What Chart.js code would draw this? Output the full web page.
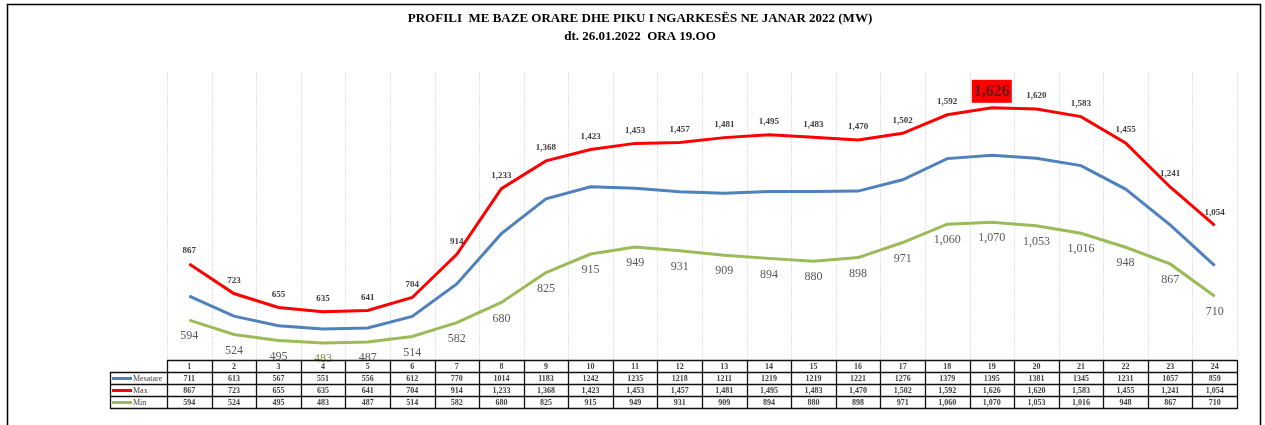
<!DOCTYPE html>
<html><head><meta charset="utf-8">
<script src="https://cdn.jsdelivr.net/npm/chart.js@4/dist/chart.umd.min.js"></script>
<style>html,body{margin:0;padding:0;background:#fff;}canvas{display:block;}</style>
</head><body>
<canvas id="c" width="1265" height="425"></canvas>
<script>
const hours = ['1','2','3','4','5','6','7','8','9','10','11','12','13','14','15','16','17','18','19','20','21','22','23','24'];
const mesatare = [711,613,567,551,556,612,770,1014,1183,1242,1235,1218,1211,1219,1219,1221,1276,1379,1395,1381,1345,1231,1057,859];
const maxVals = [867,723,655,635,641,704,914,1233,1368,1423,1453,1457,1481,1495,1483,1470,1502,1592,1626,1620,1583,1455,1241,1054];
const minVals = [594,524,495,483,487,514,582,680,825,915,949,931,909,894,880,898,971,1060,1070,1053,1016,948,867,710];
const titleLines = ['PROFILI  ME BAZE ORARE DHE PIKU I NGARKESËS NE JANAR 2022 (MW)', 'dt. 26.01.2022  ORA 19.OO'];
const seriesNames = ['Mesatare','Max','Min'];
const colors = ['#4F81BD','#FF0000','#9BBB59'];

function fmt(v){ return v.toLocaleString('en-US'); }

const deco = {
  id:'deco',
  beforeDatasetsDraw(chart){
    const ctx = chart.ctx, x = chart.scales.x, a = chart.chartArea;
    ctx.save();
    ctx.strokeStyle = '#000'; ctx.lineWidth = 1.5;
    ctx.beginPath(); ctx.moveTo(7.5, 440); ctx.lineTo(7.5, 4.5); ctx.lineTo(1260.5, 4.5); ctx.lineTo(1260.5, 440); ctx.stroke();
    ctx.fillStyle = '#000'; ctx.textAlign = 'center'; ctx.textBaseline = 'middle';
    ctx.font = 'bold 13px "Liberation Serif", "Times New Roman", serif';
    ctx.fillText(titleLines[0], 640, 19);
    ctx.fillText(titleLines[1], 640, 37);
    ctx.strokeStyle = '#e2e2e2'; ctx.lineWidth = 1; ctx.setLineDash([2,1]);
    const w = x.getPixelForValue(1) - x.getPixelForValue(0);
    for (let i = 0; i <= hours.length; i++) {
      const px = Math.round(x.getPixelForValue(0) - w/2 + i*w) + 0.5;
      ctx.beginPath(); ctx.moveTo(px, a.top); ctx.lineTo(px, a.bottom); ctx.stroke();
    }
    ctx.setLineDash([]);
    ctx.restore();
  },
  afterDatasetsDraw(chart){
    const ctx = chart.ctx, x = chart.scales.x;
    ctx.save();
    const mMax = chart.getDatasetMeta(1).data;
    ctx.textAlign = 'center'; ctx.textBaseline = 'middle';
    const peak = Math.max(...maxVals), low = Math.min(...minVals);
    mMax.forEach((p,i)=>{
      if (maxVals[i] === peak) {
        ctx.fillStyle = '#FF0000';
        ctx.fillRect(p.x - 20, p.y - 28, 40, 23);
        ctx.fillStyle = '#5a1c1c';
        ctx.font = 'bold 16px "Liberation Serif", serif';
        ctx.fillText(fmt(maxVals[i]), p.x, p.y - 16);
      } else {
        ctx.fillStyle = '#404040';
        ctx.font = 'bold 9px "Liberation Serif", serif';
        ctx.fillText(fmt(maxVals[i]), p.x, p.y - 13);
      }
    });
    const mMin = chart.getDatasetMeta(2).data;
    ctx.font = '12px "Liberation Serif", serif';
    mMin.forEach((p,i)=>{
      ctx.fillStyle = (minVals[i] === low) ? '#77933C' : '#595959';
      ctx.fillText(fmt(minVals[i]), p.x, p.y + 16);
    });
    // data table
    const w = x.getPixelForValue(1) - x.getPixelForValue(0);
    const left = x.getPixelForValue(0) - w/2;
    const right = left + w*hours.length;
    const rows = [360, 372, 384, 396, 408];
    const legL = 110;
    ctx.strokeStyle = '#111'; ctx.lineWidth = 1.3;
    ctx.beginPath(); ctx.moveTo(left, rows[0]+0.5); ctx.lineTo(right, rows[0]+0.5); ctx.stroke();
    for (let r = 1; r < rows.length; r++) {
      ctx.beginPath(); ctx.moveTo(legL, rows[r]+0.5); ctx.lineTo(right, rows[r]+0.5); ctx.stroke();
    }
    for (let i = 0; i <= hours.length; i++) {
      const px = Math.round(left + i*w) + 0.5;
      ctx.beginPath(); ctx.moveTo(px, rows[0]); ctx.lineTo(px, rows[4]+1); ctx.stroke();
    }
    ctx.beginPath(); ctx.moveTo(legL+0.5, rows[1]); ctx.lineTo(legL+0.5, rows[4]+1); ctx.stroke();
    ctx.fillStyle = '#404040';
    ctx.font = 'bold 8px "Liberation Serif", serif';
    ctx.textAlign = 'center';
    hours.forEach((h,i)=>{
      const cx = x.getPixelForValue(i);
      ctx.fillText(h, cx, (rows[0]+rows[1])/2 + 1);
      ctx.fillText(String(mesatare[i]), cx, (rows[1]+rows[2])/2 + 1);
      ctx.fillText(fmt(maxVals[i]), cx, (rows[2]+rows[3])/2 + 1);
      ctx.fillText(fmt(minVals[i]), cx, (rows[3]+rows[4])/2 + 1);
    });
    seriesNames.forEach((n,r)=>{
      const cy = (rows[r+1]+rows[r+2])/2 + 0.5;
      ctx.strokeStyle = colors[r]; ctx.lineWidth = 3;
      ctx.beginPath(); ctx.moveTo(112, cy); ctx.lineTo(132, cy); ctx.stroke();
      ctx.fillStyle = '#404040'; ctx.textAlign = 'left';
      ctx.font = '8px "Liberation Serif", serif';
      ctx.fillText(n, 133, cy + 0.5);
    });
    ctx.restore();
  }
};

new Chart(document.getElementById('c'), {
  type: 'line',
  data: {
    labels: hours,
    datasets: [
      { label: seriesNames[0], data: mesatare, borderColor: colors[0], borderWidth: 3, pointRadius: 0, tension: 0 },
      { label: seriesNames[1], data: maxVals, borderColor: colors[1], borderWidth: 3, pointRadius: 0, tension: 0 },
      { label: seriesNames[2], data: minVals, borderColor: colors[2], borderWidth: 3, pointRadius: 0, tension: 0 }
    ]
  },
  options: {
    responsive: false,
    animation: false,
    layout: { padding: { left: 167, right: 28, top: 72, bottom: 65 } },
    plugins: { legend: { display: false }, title: { display: false }, tooltip: { enabled: false } },
    scales: {
      x: { display: false, offset: true },
      y: { display: false, min: 400, max: 1800 }
    }
  },
  plugins: [deco]
});
</script>
</body></html>
